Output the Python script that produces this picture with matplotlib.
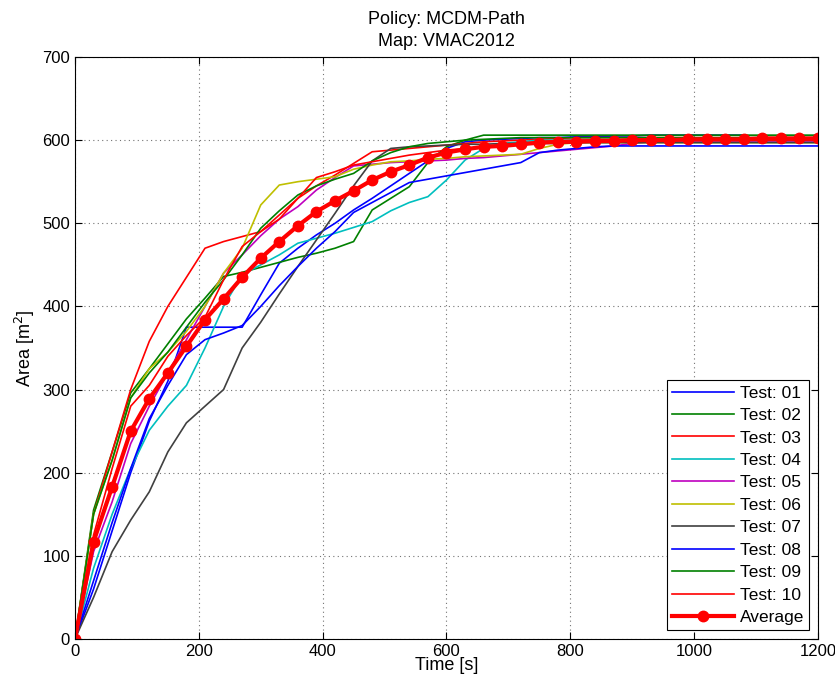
import numpy as np
import matplotlib
matplotlib.use("Agg")
import matplotlib.pyplot as plt

plt.rcParams['font.family'] = ['Liberation Sans', 'DejaVu Sans']

# time stamps (s), sampled every 30 s
t = np.arange(0, 1201, 30)
t01 = t[t <= 1080]   # run 01 stopped early

area01 = [0, 60, 130, 200, 262, 310, 375, 375, 375, 375, 414, 452, 470, 486, 500,
          516, 530, 545, 560, 575, 590, 598, 600, 601, 602, 603, 603, 604, 604, 605,
          605, 606, 606, 606, 606, 606, 606]
area02 = [0, 155, 225, 296, 325, 355, 385, 410, 436, 441, 447, 453, 459, 464, 470,
          478, 516, 530, 544, 573, 592, 600, 606, 606, 606, 606, 606, 606, 606, 606,
          606, 606, 606, 606, 606, 606, 606, 606, 606, 606, 606]
area03 = [0, 150, 225, 300, 358, 400, 435, 470, 478, 484, 490, 510, 530, 545, 558,
          572, 586, 588, 590, 592, 594, 596, 598, 599, 600, 601, 602, 603, 603, 603,
          603, 603, 603, 603, 603, 603, 603, 603, 603, 603, 603]
area04 = [0, 85, 150, 205, 251, 280, 305, 350, 400, 438, 450, 462, 476, 482, 488,
          495, 502, 515, 525, 532, 552, 576, 590, 596, 598, 600, 600, 600, 600, 600,
          600, 600, 600, 600, 600, 600, 600, 600, 600, 600, 600]
area05 = [0, 105, 165, 235, 280, 320, 360, 400, 440, 462, 485, 505, 520, 540, 555,
          569, 571, 573, 574, 575, 576, 578, 579, 581, 583, 585, 587, 589, 591, 593,
          596, 598, 598, 598, 598, 598, 598, 598, 598, 598, 598]
area06 = [0, 150, 215, 290, 325, 345, 370, 400, 440, 470, 522, 546, 550, 553, 556,
          565, 570, 574, 575, 577, 578, 580, 581, 582, 583, 590, 595, 597, 597, 597,
          597, 597, 597, 597, 597, 597, 597, 597, 597, 597, 597]
area07 = [0, 50, 105, 143, 177, 225, 260, 280, 300, 350, 381, 415, 448, 480, 512,
          545, 575, 590, 592, 593, 594, 595, 595, 596, 596, 596, 596, 597, 597, 597,
          597, 597, 597, 597, 597, 597, 597, 597, 597, 597, 597]
area08 = [0, 70, 140, 205, 265, 305, 342, 360, 368, 377, 400, 425, 448, 470, 490,
          513, 525, 537, 549, 553, 557, 561, 565, 569, 573, 585, 588, 590, 592, 593,
          593, 593, 593, 593, 593, 593, 593, 593, 593, 593, 593]
area09 = [0, 150, 215, 290, 320, 345, 375, 405, 432, 462, 494, 515, 534, 545, 553,
          560, 575, 585, 592, 596, 598, 600, 601, 602, 603, 603, 603, 603, 603, 603,
          603, 603, 603, 603, 603, 603, 603, 603, 603, 603, 603]
area10 = [0, 125, 205, 280, 305, 340, 365, 387, 432, 472, 490, 505, 530, 555, 562,
          570, 574, 578, 582, 585, 588, 590, 592, 594, 596, 598, 599, 600, 600, 600,
          600, 600, 600, 600, 600, 600, 600, 600, 600, 600, 600]
average = [0, 117, 183, 250, 289, 320, 352, 384, 409, 435, 458, 478, 497, 514, 527,
           539, 552, 562, 570, 579, 585, 589, 592, 593, 595, 597, 598, 598, 599, 599,
           600, 600, 600, 601, 601, 601, 601, 602, 602, 602, 602]

runs = [(t01, area01), (t, area02), (t, area03), (t, area04), (t, area05),
        (t, area06), (t, area07), (t, area08), (t, area09), (t, area10)]
labels = ['Test: %02d' % (i + 1) for i in range(10)]

# matlab default line colours
colors = [(0, 0, 1), (0, 0.5, 0), (1, 0, 0), (0, 0.75, 0.75), (0.75, 0, 0.75),
          (0.75, 0.75, 0), (0.25, 0.25, 0.25)]

fig = plt.figure(figsize=(8.35, 6.85), dpi=100)
ax = fig.add_axes([0.0898, 0.0672, 0.8898, 0.8496])

for i, (tt, a) in enumerate(runs):
    ax.plot(tt, a, color=colors[i % 7], lw=1.2, label=labels[i])
ax.plot(t, average, color='r', lw=3, marker='o', ms=7.5, label='Average')

ax.set_xlim(0, 1200)
ax.set_ylim(0, 700)
ax.set_xticks(np.arange(0, 1201, 200))
ax.set_yticks(np.arange(0, 701, 100))
ax.grid(True, linestyle=(0, (1, 3)), color='0.45', lw=0.8)
ax.tick_params(direction='in', top=True, right=True, labelsize=12, length=5)
for s in ax.spines.values():
    s.set_linewidth(0.8)

ax.set_xlabel('Time [s]', fontsize=13, labelpad=-1)
ax.set_ylabel('Area [m$^2$]', fontsize=13, labelpad=4)
ax.set_title('Policy: MCDM-Path\nMap: VMAC2012', fontsize=13, pad=8,
             linespacing=1.35)

leg = ax.legend(loc='lower right', fontsize=12.5, fancybox=False, framealpha=1,
                edgecolor='k', handlelength=3.6, labelspacing=0.42,
                borderaxespad=0.5, handletextpad=0.3, borderpad=0.3)
leg.get_frame().set_linewidth(0.8)

fig.savefig('out.png', dpi=100)
